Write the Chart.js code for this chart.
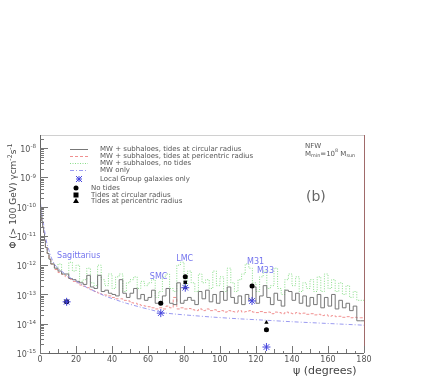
<!DOCTYPE html>
<html>
<head>
<meta charset="utf-8">
<script src="https://cdn.jsdelivr.net/npm/chart.js@4"></script>
<style>
  html, body { margin: 0; padding: 0; background: #fff; }
  canvas { display: block; }
</style>
</head>
<body>
<canvas id="fluxChart" width="436" height="382"></canvas>
<script>
// bin edges (degrees) - value of a bin starts at its left edge
const binEdges = [0, 0.5, 1, 1.5, 2, 2.5, 3, 4, 5, 6, 8,
  10, 12, 14, 16, 18, 20, 22, 24, 26, 28, 30, 32, 34, 36, 38, 40, 42, 44, 46, 48,
  50, 52, 54, 56, 58, 60, 62, 64, 66, 68, 70, 72, 74, 76, 78, 80, 82, 84, 86, 88,
  90, 92, 94, 96, 98, 100, 102, 104, 106, 108, 110, 112, 114, 116, 118, 120, 122, 124, 126, 128,
  130, 132, 134, 136, 138, 140, 142, 144, 146, 148, 150, 152, 154, 156, 158, 160, 162, 164, 166, 168,
  170, 172, 174, 176, 178, 180];

// MW + subhaloes, tides at circular radius
const fluxCircular = [2e-8, 7.9e-11, 5.0e-11, 3.2e-11, 2.0e-11, 1.3e-11, 7.1e-12, 4.0e-12, 2.5e-12, 1.6e-12, 1.1e-12,
  7.9e-13, 6.3e-13, 5.0e-13, 5.0e-13, 3.5e-13, 3.2e-13, 2.8e-13, 2.5e-13, 2.2e-13, 4.5e-13,
  1.8e-13, 1.6e-13, 4.5e-13, 1.26e-13, 1.4e-13, 1.1e-13, 1.0e-13, 8.9e-14, 3.2e-13, 1.1e-13,
  7.9e-14, 1.1e-13, 1.6e-13, 7.1e-14, 1.0e-13, 6.3e-14, 7.9e-14, 1.4e-13, 5.0e-14, 5.6e-14,
  8.9e-14, 1.6e-13, 5.0e-14, 4.5e-14, 2.5e-13, 5.0e-14, 6.3e-14, 7.9e-14, 6.3e-14, 4.5e-14,
  1.26e-13, 7.1e-14, 1.4e-13, 5.6e-14, 1.0e-13, 5.0e-14, 1.26e-13, 6.3e-14, 1.8e-13, 7.9e-14,
  5.0e-14, 8.9e-14, 4.5e-14, 1.0e-13, 6.3e-14, 1.8e-13, 5.0e-14, 8.9e-14, 2.0e-13, 7.9e-14,
  4.5e-14, 1.1e-13, 6.3e-14, 4.0e-14, 1.4e-13, 1.26e-13, 6.3e-14, 1.1e-13, 5.0e-14, 8.9e-14,
  4.0e-14, 7.9e-14, 4.5e-14, 1.0e-13, 3.5e-14, 7.9e-14, 4.0e-14, 1.0e-13, 3.2e-14, 6.3e-14,
  3.5e-14, 5.0e-14, 2.8e-14, 4.0e-14, 1.26e-14, 1.26e-14];

// MW + subhaloes, tides at pericentric radius
const fluxPericentric = [2e-8, 7.9e-11, 5.0e-11, 3.2e-11, 2.0e-11, 1.3e-11, 7.1e-12, 4.0e-12, 2.5e-12, 1.6e-12, 1.1e-12,
  7.1e-13, 5.6e-13, 4.8e-13, 4.0e-13, 3.3e-13, 2.8e-13, 2.5e-13, 2.1e-13, 1.9e-13, 1.7e-13,
  1.45e-13, 1.26e-13, 1.12e-13, 1.0e-13, 9.5e-14, 8.9e-14, 7.9e-14, 7.1e-14, 7.1e-14, 6.3e-14,
  6.0e-14, 5.2e-14, 5.0e-14, 4.5e-14, 4.2e-14, 4.0e-14, 3.8e-14, 3.5e-14, 3.2e-14, 3.5e-14,
  3.2e-14, 4.0e-14, 3.5e-14, 7.9e-14, 3.2e-14, 3.5e-14, 3.2e-14, 3.3e-14, 3.0e-14, 2.8e-14,
  3.2e-14, 2.8e-14, 3.2e-14, 2.8e-14, 3.0e-14, 2.6e-14, 2.8e-14, 2.5e-14, 2.8e-14, 2.6e-14,
  2.5e-14, 2.8e-14, 2.5e-14, 2.6e-14, 2.8e-14, 2.5e-14, 2.4e-14, 2.6e-14, 2.4e-14, 2.5e-14,
  2.2e-14, 2.5e-14, 2.4e-14, 2.2e-14, 2.5e-14, 2.3e-14, 2.2e-14, 2.4e-14, 2.2e-14, 2.3e-14,
  2.1e-14, 2.2e-14, 2.0e-14, 2.1e-14, 1.9e-14, 2.0e-14, 1.8e-14, 1.9e-14, 1.74e-14, 1.8e-14,
  1.66e-14, 1.74e-14, 1.6e-14, 1.66e-14, 1.6e-14, 1.6e-14];

// MW + subhaloes, no tides
const fluxNoTides = [2e-8, 7.9e-11, 5.0e-11, 3.2e-11, 2.0e-11, 1.3e-11, 7.1e-12, 4.0e-12, 2.5e-12, 1.6e-12, 1.1e-12,
  7.9e-13, 1.1e-12, 5.0e-13, 4.5e-13, 1.26e-12, 6.3e-13, 1.0e-12, 2.8e-13, 3.2e-13, 7.9e-13,
  2.5e-13, 2.0e-13, 1.0e-12, 3.2e-13, 2.0e-13, 5.0e-13, 1.6e-13, 4.0e-13, 5.0e-13, 1.26e-13,
  2.5e-13, 3.2e-13, 4.0e-13, 1.6e-13, 2.8e-13, 2.0e-13, 2.5e-13, 3.2e-13, 7.9e-14, 1.26e-13,
  4.0e-13, 5.0e-13, 1.6e-13, 1.26e-13, 1.0e-12, 1.26e-12, 2.0e-13, 6.3e-13, 2.5e-13, 1.26e-13,
  5.0e-13, 2.5e-13, 3.2e-13, 1.6e-13, 6.3e-13, 2.0e-13, 4.0e-13, 1.26e-13, 7.9e-13, 2.5e-13,
  1.26e-13, 3.2e-13, 5.0e-13, 1.1e-12, 7.9e-13, 2.5e-13, 1.26e-13, 4.0e-13, 6.3e-13, 1.6e-13,
  2.0e-13, 7.9e-13, 1.6e-13, 1.0e-13, 3.2e-13, 5.0e-13, 2.0e-13, 4.0e-13, 1.26e-13, 2.5e-13,
  1.6e-13, 3.2e-13, 1.26e-13, 4.0e-13, 1.26e-13, 5.0e-13, 1.6e-13, 3.2e-13, 1.26e-13, 2.5e-13,
  1.0e-13, 2.0e-13, 7.9e-14, 1.26e-13, 6.3e-14, 6.3e-14];

// MW only (smooth)
const mwAngle = [0.3, 0.7, 1.2, 2, 3, 4, 5, 6, 8, 10, 14, 18, 22, 27, 32, 36, 42, 48, 55, 62, 68, 75, 85, 95, 110, 125, 140, 160, 180];
const mwFlux = [1.26e-10, 7.9e-11, 4.5e-11, 2.5e-11, 1.0e-11, 5.0e-12, 3.2e-12, 2.0e-12, 1.1e-12, 7.9e-13, 5.0e-13, 3.3e-13,
  2.4e-13, 1.6e-13, 1.17e-13, 8.9e-14, 6.6e-14, 5.0e-14, 3.8e-14, 2.95e-14, 2.4e-14, 2.14e-14, 1.9e-14, 1.7e-14,
  1.48e-14, 1.32e-14, 1.17e-14, 1.02e-14, 8.9e-15];

// Local Group galaxies
const galaxies = ['Sagittarius', 'SMC', 'LMC', 'M31', 'M33'];
const galaxyAngle = [14.8, 67.1, 80.7, 117.8, 125.8];
const galaxyOnly = [5.6e-14, 2.3e-14, 1.7e-13, 6.0e-14, 1.6e-15];
const galaxyNoTides = [5.6e-14, 5.0e-14, 4.0e-13, 1.95e-13, 6.2e-15];
const galaxyCircular = [5.6e-14, 5.0e-14, 2.6e-13, 1.95e-13, 6.2e-15];
const galaxyPericentric = [5.6e-14, 5.0e-14, 1.7e-13, 1.9e-13, 1.1e-14];
// where the names are written (degrees, flux)
const nameAngle = [9.5, 61, 75.7, 115, 120.5];
const nameFlux = [2.0e-12, 4.0e-13, 1.6e-12, 1.3e-12, 6.3e-13];

const xTicks = [0, 20, 40, 60, 80, 100, 120, 140, 160, 180];
const yExponents = [-8, -9, -10, -11, -12, -13, -14, -15];

const histData = (vals) => binEdges.map((x, i) => ({ x: x, y: vals[i] }));
const pts = (ys) => galaxyAngle.map((x, i) => ({ x: x, y: ys[i] }));

const FONT = '"DejaVu Sans", sans-serif';

function supText(ctx, parts, x, y, size) {
  // parts: [text, shift] where shift: 0 normal, 1 super, -1 sub
  let cx = x;
  parts.forEach(p => {
    const s = p[1] === 0 ? size : size * 0.7;
    ctx.font = s + 'px ' + FONT;
    const dy = p[1] === 1 ? -size * 0.4 : (p[1] === -1 ? size * 0.3 : 0);
    ctx.fillText(p[0], cx, y + dy);
    cx += ctx.measureText(p[0]).width;
  });
  return cx - x;
}
function supWidth(ctx, parts, size) {
  let w = 0;
  parts.forEach(p => {
    ctx.font = (p[1] === 0 ? size : size * 0.7) + 'px ' + FONT;
    w += ctx.measureText(p[0]).width;
  });
  return w;
}

const decorations = {
  id: 'decorations',
  afterDraw(chart) {
    const ctx = chart.ctx;
    const a = chart.chartArea;
    const xs = chart.scales.x, ys = chart.scales.y;
    ctx.save();

    // frame
    ctx.lineWidth = 1;
    ctx.strokeStyle = '#d0d0d0';
    ctx.beginPath(); ctx.moveTo(a.left, a.top + 0.5); ctx.lineTo(a.right, a.top + 0.5); ctx.stroke();
    ctx.strokeStyle = '#a06a6a';
    ctx.beginPath(); ctx.moveTo(a.right + 0.5, a.top); ctx.lineTo(a.right + 0.5, a.bottom); ctx.stroke();
    ctx.strokeStyle = '#666';
    ctx.beginPath();
    ctx.moveTo(a.left + 0.5, a.top); ctx.lineTo(a.left + 0.5, a.bottom + 0.5); ctx.lineTo(a.right, a.bottom + 0.5);
    ctx.stroke();

    // y ticks (log)
    ctx.strokeStyle = '#777';
    ctx.beginPath();
    for (let e = -15; e <= -8; e++) {
      for (let m = 1; m <= 9; m++) {
        const v = m * Math.pow(10, e);
        if (v > ys.max) continue;
        const py = Math.round(ys.getPixelForValue(v)) + 0.5;
        const len = m === 1 ? 8 : 4;
        ctx.moveTo(a.left, py); ctx.lineTo(a.left + len, py);
      }
    }
    // x ticks
    for (let d = 0; d <= 180; d += 5) {
      const px = Math.round(xs.getPixelForValue(d)) + 0.5;
      const len = d % 20 === 0 ? 7 : (d % 10 === 0 ? 4 : 2);
      ctx.moveTo(px, a.bottom); ctx.lineTo(px, a.bottom - len);
    }
    ctx.stroke();

    // y labels
    ctx.fillStyle = '#555';
    ctx.textBaseline = 'middle';
    yExponents.forEach(e => {
      const py = ys.getPixelForValue(Math.pow(10, e));
      const parts = [['10', 0], [String(e), 1]];
      const w = supWidth(ctx, parts, 8);
      supText(ctx, parts, 36 - w, py + 2, 8);
    });
    // x labels
    ctx.font = '8px ' + FONT;
    ctx.textAlign = 'center';
    xTicks.forEach(t => ctx.fillText(String(t), xs.getPixelForValue(t), a.bottom + 7));

    // axis titles
    ctx.textAlign = 'left';
    ctx.fillStyle = '#444';
    ctx.font = '11px ' + FONT;
    ctx.fillText('\u03c8 (degrees)', 293, 371);

    ctx.save();
    ctx.translate(14, 196);
    ctx.rotate(-Math.PI / 2);
    const yt = [['\u03a6 (> 100 GeV) \u03b3cm', 0], ['-2', 1], ['s', 0], ['-1', 1]];
    const ytw = supWidth(ctx, yt, 9);
    supText(ctx, yt, -ytw / 2, 0, 9);
    ctx.restore();

    // legend lines
    const lx0 = 70, lx1 = 88, tx = 100;
    const leg = [
      ['MW + subhaloes, tides at circular radius', '#777777', [], 149],
      ['MW + subhaloes, tides at pericentric radius', '#f09090', [3, 2], 156],
      ['MW + subhaloes, no tides', '#88dd88', [1, 1.5], 163],
      ['MW only', '#9a9af0', [4, 2, 1, 2], 170]
    ];
    ctx.font = '7px ' + FONT;
    ctx.lineWidth = 1;
    leg.forEach(l => {
      ctx.strokeStyle = l[1];
      ctx.setLineDash(l[2]);
      ctx.beginPath(); ctx.moveTo(lx0, l[3] + 0.5); ctx.lineTo(lx1, l[3] + 0.5); ctx.stroke();
      ctx.fillStyle = '#555';
      ctx.fillText(l[0], tx, l[3]);
    });
    ctx.setLineDash([]);
    // marker legend
    const star = (x, y, r) => {
      ctx.strokeStyle = '#4444dd';
      ctx.beginPath();
      ctx.moveTo(x - r, y - r); ctx.lineTo(x + r, y + r);
      ctx.moveTo(x + r, y - r); ctx.lineTo(x - r, y + r);
      ctx.moveTo(x - r, y); ctx.lineTo(x + r, y);
      ctx.moveTo(x, y - r); ctx.lineTo(x, y + r);
      ctx.stroke();
    };
    star(79, 179, 3);
    ctx.fillStyle = '#555';
    ctx.fillText('Local Group galaxies only', 100, 179);
    ctx.fillStyle = '#000';
    ctx.beginPath(); ctx.arc(76, 188, 2.5, 0, Math.PI * 2); ctx.fill();
    ctx.fillRect(73.5, 192.5, 5, 5);
    ctx.beginPath(); ctx.moveTo(76, 198); ctx.lineTo(79, 203); ctx.lineTo(73, 203); ctx.closePath(); ctx.fill();
    ctx.fillStyle = '#555';
    ctx.fillText('No tides', 91, 188);
    ctx.fillText('Tides at circular radius', 91, 195);
    ctx.fillText('Tides at pericentric radius', 91, 201.5);

    // model text
    ctx.fillText('NFW', 305, 146);
    supText(ctx, [['M', 0], ['min', -1], ['=10', 0], ['8', 1], [' M', 0], ['sun', -1]], 305, 154, 7);
    ctx.font = '14px ' + FONT;
    ctx.fillStyle = '#666';
    ctx.fillText('(b)', 306, 197);

    // galaxy names
    ctx.font = '8px ' + FONT;
    ctx.fillStyle = '#7474ee';
    galaxies.forEach((g, i) => {
      ctx.fillText(g, xs.getPixelForValue(nameAngle[i]), ys.getPixelForValue(nameFlux[i]));
    });
    ctx.restore();
  }
};

const ctx = document.getElementById('fluxChart').getContext('2d');
const fluxChart = new Chart(ctx, {
  type: 'scatter',
  data: {
    datasets: [
      { label: 'Local Group galaxies only', data: pts(galaxyOnly), pointStyle: 'star', pointRadius: 4,
        borderColor: '#4444dd', backgroundColor: '#4444dd', borderWidth: 1, showLine: false },
      { label: 'Tides at pericentric radius', data: pts(galaxyPericentric), pointStyle: 'triangle', pointRadius: 2.5,
        borderColor: '#000', backgroundColor: '#000', borderWidth: 0, showLine: false },
      { label: 'Tides at circular radius', data: pts(galaxyCircular), pointStyle: 'rect', pointRadius: 2.5,
        borderColor: '#000', backgroundColor: '#000', borderWidth: 0, showLine: false },
      { label: 'No tides', data: pts(galaxyNoTides), pointStyle: 'circle', pointRadius: 2.5,
        borderColor: '#000', backgroundColor: '#000', borderWidth: 0, showLine: false },
      { label: 'MW only', data: mwAngle.map((x, i) => ({ x: x, y: mwFlux[i] })), showLine: true,
        borderColor: '#9a9af0', borderWidth: 1, borderDash: [4, 2, 1, 2], pointRadius: 0, tension: 0.3 },
      { label: 'MW + subhaloes, tides at circular radius', data: histData(fluxCircular), showLine: true, stepped: 'after',
        borderColor: '#777777', borderWidth: 1, pointRadius: 0 },
      { label: 'MW + subhaloes, tides at pericentric radius', data: histData(fluxPericentric), showLine: true, stepped: 'after',
        borderColor: '#f09090', borderWidth: 1, borderDash: [3, 2], pointRadius: 0 },
      { label: 'MW + subhaloes, no tides', data: histData(fluxNoTides), showLine: true, stepped: 'after',
        borderColor: '#88dd88', borderWidth: 1, borderDash: [1, 1.5], pointRadius: 0 }
    ]
  },
  options: {
    responsive: false,
    animation: false,
    layout: { padding: { left: 40, right: 72, top: 135, bottom: 29 } },
    plugins: {
      legend: { display: false },
      tooltip: { enabled: false }
    },
    scales: {
      x: { type: 'linear', min: 0, max: 180, display: false },
      y: { type: 'logarithmic', min: 1e-15, max: 2.8e-8, display: false }
    }
  },
  plugins: [decorations]
});
</script>
</body>
</html>
